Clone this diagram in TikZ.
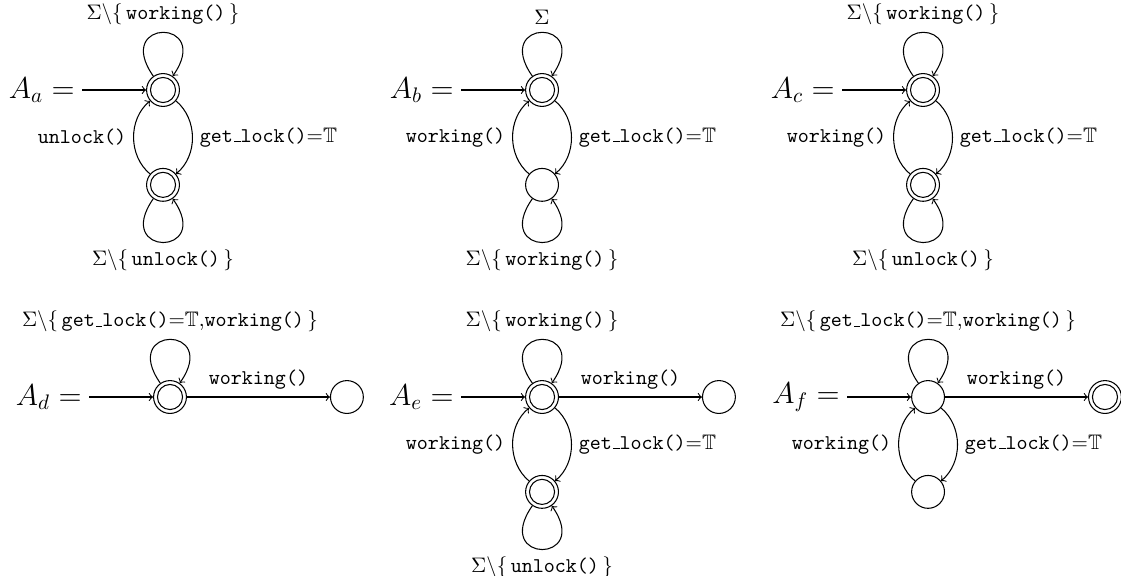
\documentclass[tikz,border=0pt]{standalone}
\usepackage{amsmath}
\usepackage{amssymb}
\usepackage{tikz}
\usetikzlibrary{positioning}
\newcommand{\uscore}{\leavevmode\kern.06em\vbox{\hrule width.3em}}

\begin{document}
\begin{tikzpicture}[node distance=1.02cm,line width=0.5pt,
  st/.style={draw,circle,minimum size=5.5mm,inner sep=0pt},
  acc/.style={st,path picture={\draw (path picture bounding box.center) circle (2.1mm);}},
  nm/.style={font=\Large},
  lp/.style={->,min distance=11.9mm}]
  \useasboundingbox (0,0) rectangle (18.76,-9.623);

  % A_a
  \node[acc] (a0) at (2.728,-1.506) {};
  \node[acc,below=of a0] (a1) {};
  \node[nm,left=1.07cm of a0] (la) {$A_a =$};
  \draw[->] (la) -- (a0);
  \draw[lp] (a0) to[out=125,in=55] node[above]{$\Sigma\backslash\{\,$\texttt{working()}$\,\}$} (a0);
  \draw[lp] (a1) to[out=-125,in=-55] node[below]{$\Sigma\backslash\{\,$\texttt{unlock()}$\,\}$} (a1);
  \draw[->] (a0) to[bend left=50] node[right]{\texttt{get\uscore lock()}${=}\mathbb{T}$} (a1);
  \draw[->] (a1) to[bend left=50] node[left]{\texttt{unlock()}} (a0);

  % A_b
  \node[acc] (b0) at (9.071,-1.506) {};
  \node[st,below=of b0] (b1) {};
  \node[nm,left=1.07cm of b0] (lb) {$A_b =$};
  \draw[->] (lb) -- (b0);
  \draw[lp] (b0) to[out=125,in=55] node[above]{$\Sigma$} (b0);
  \draw[lp] (b1) to[out=-125,in=-55] node[below]{$\Sigma\backslash\{\,$\texttt{working()}$\,\}$} (b1);
  \draw[->] (b0) to[bend left=50] node[right]{\texttt{get\uscore lock()}${=}\mathbb{T}$} (b1);
  \draw[->] (b1) to[bend left=50] node[left]{\texttt{working()}} (b0);

  % A_c
  \node[acc] (c0) at (15.447,-1.506) {};
  \node[acc,below=of c0] (c1) {};
  \node[nm,left=1.07cm of c0] (lc) {$A_c =$};
  \draw[->] (lc) -- (c0);
  \draw[lp] (c0) to[out=125,in=55] node[above]{$\Sigma\backslash\{\,$\texttt{working()}$\,\}$} (c0);
  \draw[lp] (c1) to[out=-125,in=-55] node[below]{$\Sigma\backslash\{\,$\texttt{unlock()}$\,\}$} (c1);
  \draw[->] (c0) to[bend left=50] node[right]{\texttt{get\uscore lock()}${=}\mathbb{T}$} (c1);
  \draw[->] (c1) to[bend left=50] node[left]{\texttt{working()}} (c0);

  % A_d
  \node[acc] (d0) at (2.845,-6.644) {};
  \node[st,right=2.393cm of d0] (d1) {};
  \node[nm,left=1.07cm of d0] (ld) {$A_d =$};
  \draw[->] (ld) -- (d0);
  \draw[lp] (d0) to[out=125,in=55] node[above]{$\Sigma\backslash\{\,$\texttt{get\uscore lock()}${=}\mathbb{T}$,\texttt{working()}$\,\}$} (d0);
  \draw[->] (d0) -- node[above]{\texttt{working()}} (d1);

  % A_e
  \node[acc] (e0) at (9.071,-6.644) {};
  \node[acc,below=of e0] (e1) {};
  \node[st,right=2.393cm of e0] (e2) {};
  \node[nm,left=1.07cm of e0] (le) {$A_e =$};
  \draw[->] (le) -- (e0);
  \draw[lp] (e0) to[out=125,in=55] node[above]{$\Sigma\backslash\{\,$\texttt{working()}$\,\}$} (e0);
  \draw[lp] (e1) to[out=-125,in=-55] node[below]{$\Sigma\backslash\{\,$\texttt{unlock()}$\,\}$} (e1);
  \draw[->] (e0) to[bend left=50] node[right]{\texttt{get\uscore lock()}${=}\mathbb{T}$} (e1);
  \draw[->] (e1) to[bend left=50] node[left]{\texttt{working()}} (e0);
  \draw[->] (e0) -- node[above]{\texttt{working()}} (e2);

  % A_f
  \node[st] (f0) at (15.531,-6.644) {};
  \node[st,below=of f0] (f1) {};
  \node[acc,right=2.393cm of f0] (f2) {};
  \node[nm,left=1.07cm of f0] (lf) {$A_f =$};
  \draw[->] (lf) -- (f0);
  \draw[lp] (f0) to[out=125,in=55] node[above]{$\Sigma\backslash\{\,$\texttt{get\uscore lock()}${=}\mathbb{T}$,\texttt{working()}$\,\}$} (f0);
  \draw[->] (f0) to[bend left=50] node[right]{\texttt{get\uscore lock()}${=}\mathbb{T}$} (f1);
  \draw[->] (f1) to[bend left=50] node[left]{\texttt{working()}} (f0);
  \draw[->] (f0) -- node[above]{\texttt{working()}} (f2);
\end{tikzpicture}
\end{document}
